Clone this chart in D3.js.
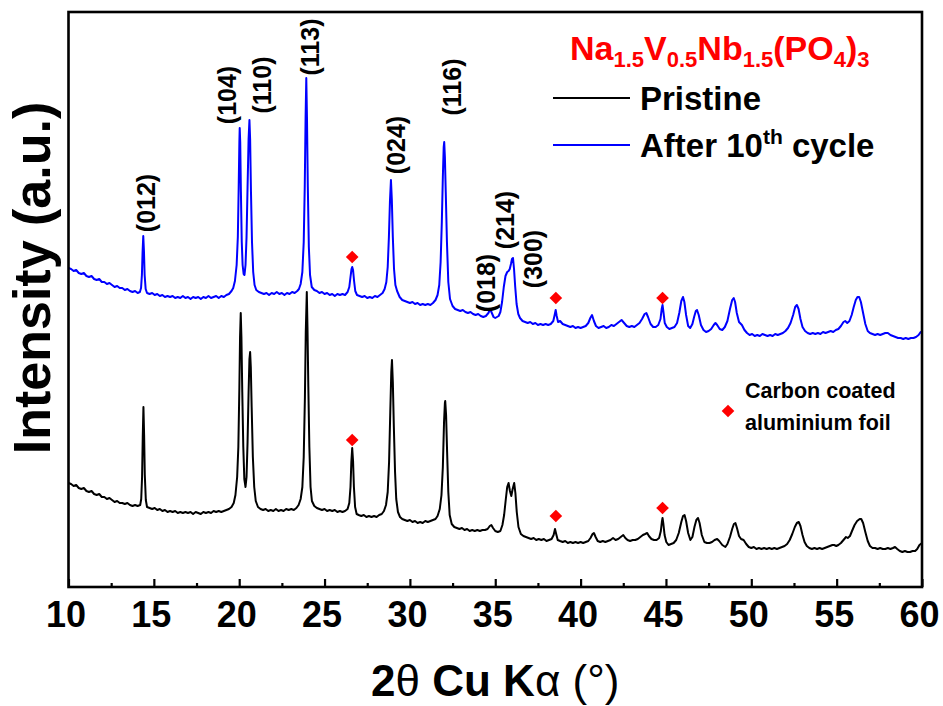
<!DOCTYPE html>
<html>
<head>
<meta charset="utf-8">
<script src="https://cdn.jsdelivr.net/npm/d3@7/dist/d3.min.js"></script>
<style>
  body { margin: 0; background: #fff; }
  svg { display: block; }
  text { font-family: "Liberation Sans", Arial, Helvetica, sans-serif; font-weight: bold; }
</style>
</head>
<body>
<svg id="chart" width="943" height="706"></svg>
<script>
// XRD patterns of Na1.5V0.5Nb1.5(PO4)3 electrodes: [2θ (deg), intensity (a.u.)]
const pristine = [
  [10.00,104],[10.15,103],[10.30,101],[10.45,102],[10.60,99],[10.75,98],[10.90,99],[11.05,96],[11.20,95],[11.35,96],
  [11.50,93],[11.65,92],[11.80,93],[11.95,90],[12.10,90],[12.25,88],[12.40,89],[12.55,87],[12.70,85],[12.85,86],
  [13.00,84],[13.15,84],[13.30,83],[13.45,84],[13.60,82],[13.75,81],[13.90,82],[14.05,81],[14.20,82],
  [14.26,88],[14.31,110],[14.35,150],[14.39,180],[14.43,152],[14.47,112],[14.53,87],[14.60,80],
  [14.75,79],[14.90,78],[15.05,79],[15.20,77],[15.35,78],[15.50,76],[15.65,77],[15.80,75],[15.95,76],[16.10,75],
  [16.25,76],[16.40,74],[16.55,75],[16.70,74],[16.85,75],[17.00,74],[17.15,75],[17.30,73],[17.45,75],[17.60,74],
  [17.75,73],[17.90,75],[18.05,74],[18.20,75],[18.35,74],[18.50,76],[18.65,75],[18.80,76],[18.95,75],[19.10,76],
  [19.25,77],[19.40,78],[19.55,80],
  [19.68,84],[19.78,92],[19.88,110],[19.95,140],[20.01,200],[20.05,250],[20.09,274],[20.13,250],[20.18,195],
  [20.24,140],[20.30,108],[20.37,100],[20.43,110],[20.49,145],[20.55,195],[20.60,228],[20.64,235],[20.68,220],
  [20.73,180],[20.80,130],[20.88,100],[20.97,86],[21.10,80],
  [21.25,78],[21.40,77],[21.55,78],[21.70,76],[21.85,77],[22.00,76],[22.15,78],[22.30,76],[22.45,77],[22.60,76],
  [22.75,78],[22.90,77],[23.05,78],[23.20,77],[23.35,79],[23.48,82],
  [23.60,88],[23.70,100],[23.78,130],[23.85,190],[23.90,255],[23.96,295],[24.00,260],[24.05,200],[24.11,140],
  [24.18,100],[24.26,86],[24.40,81],
  [24.55,79],[24.70,78],[24.85,77],[25.00,78],[25.15,76],[25.30,77],[25.45,76],[25.60,77],[25.75,75],[25.90,76],
  [26.05,75],[26.20,76],[26.35,78],
  [26.45,84],[26.52,100],[26.57,125],[26.62,139],[26.67,126],[26.72,100],[26.79,80],[26.88,73],
  [27.00,72],[27.15,71],[27.30,72],[27.45,70],[27.60,71],[27.75,70],[27.90,71],[28.05,70],[28.20,72],[28.35,73],
  [28.48,76],
  [28.60,82],[28.70,95],[28.78,125],[28.85,175],[28.91,215],[28.95,227],[29.00,205],[29.06,160],[29.13,115],
  [29.20,88],[29.30,75],[29.42,70],
  [29.55,68],[29.70,67],[29.85,66],[30.00,67],[30.15,65],[30.30,66],[30.45,64],[30.60,65],[30.75,64],[30.90,66],
  [31.05,65],[31.20,66],[31.35,67],[31.50,68],[31.62,71],
  [31.75,78],[31.85,92],[31.93,120],[32.00,165],[32.05,184],[32.07,186],[32.12,172],[32.18,135],[32.25,95],
  [32.33,72],[32.45,63],[32.60,60],
  [32.75,59],[32.90,58],[33.05,59],[33.20,57],[33.35,58],[33.50,56],[33.65,57],[33.80,56],[33.95,57],[34.10,56],
  [34.25,57],[34.40,57],[34.55,58],[34.68,61],[34.77,62],[34.87,59],[35.00,56],[35.15,55],[35.30,56],
  [35.42,62],[35.52,72],[35.62,88],[35.70,100],[35.78,104],[35.86,96],[35.94,91],[36.02,98],[36.11,104],
  [36.18,94],[36.26,75],[36.36,60],[36.50,53],[36.65,51],[36.80,50],
  [36.95,49],[37.10,48],[37.25,49],[37.40,47],[37.55,48],[37.70,47],[37.85,48],[38.00,46],[38.15,47],[38.30,48],
  [38.42,52],[38.50,58],[38.57,53],[38.66,47],[38.80,46],[38.95,45],
  [39.10,46],[39.25,44],[39.40,45],[39.55,44],[39.70,45],[39.85,44],[40.00,45],[40.15,44],[40.30,45],[40.45,46],
  [40.58,49],[40.70,53],[40.78,54],[40.88,50],[41.00,46],[41.15,45],
  [41.30,46],[41.45,45],[41.60,46],[41.75,47],[41.90,49],[42.05,47],[42.20,48],[42.35,50],[42.50,52],[42.62,49],
  [42.75,47],[42.90,46],[43.05,47],[43.20,47],[43.35,48],[43.50,50],[43.65,52],[43.78,53],[43.90,54],[44.00,51],
  [44.15,48],[44.30,47],[44.45,47],[44.60,49],[44.70,56],[44.76,65],[44.80,69],[44.85,63],[44.92,52],[45.02,45],
  [45.15,42],[45.30,43],[45.45,44],[45.60,47],[45.75,54],[45.90,65],[46.00,71],[46.09,72],[46.18,66],[46.30,54],
  [46.43,47],[46.55,50],[46.67,60],[46.78,67],[46.88,69],[46.97,64],[47.10,52],[47.25,45],[47.40,44],[47.55,44],
  [47.70,45],[47.85,47],[48.00,48],[48.12,46],[48.30,42],[48.48,40],[48.60,43],[48.75,50],[48.88,58],[48.98,63],
  [49.07,64],[49.16,59],[49.28,51],[49.40,48],[49.55,47],[49.70,43],[49.85,40],[50.00,39],[50.15,40],[50.30,38],
  [50.45,39],[50.60,38],[50.75,39],[50.90,38],[51.05,39],[51.20,38],[51.35,39],[51.50,38],[51.65,39],[51.80,40],
  [51.95,41],[52.10,43],[52.25,47],[52.40,53],[52.55,60],[52.67,64],[52.78,65],[52.88,61],[53.00,52],[53.12,45],
  [53.25,41],[53.40,39],[53.55,38],[53.70,39],[53.85,38],[54.00,39],[54.15,38],[54.30,39],[54.45,40],[54.60,41],
  [54.75,42],[54.85,42],[54.98,41],[55.10,42],[55.25,44],[55.40,47],[55.55,50],[55.65,49],[55.78,51],[55.90,56],
  [56.05,62],[56.20,66],[56.35,68],[56.44,68],[56.55,64],[56.68,55],[56.82,46],[56.95,41],[57.10,39],[57.25,39],
  [57.40,38],[57.55,39],[57.70,38],[57.85,38],[58.00,39],[58.15,38],[58.30,39],[58.42,40],[58.55,38],[58.70,36],
  [58.85,35],[59.00,36],[59.15,35],[59.30,35],[59.45,36],[59.60,36],[59.72,38],[59.85,42],[60.00,44]
];

const afterCycling = [
  [10.00,319],[10.15,318],[10.30,316],[10.45,317],[10.60,314],[10.75,313],[10.90,314],[11.05,311],[11.20,310],[11.35,311],
  [11.50,308],[11.65,307],[11.80,308],[11.95,305],[12.10,305],[12.25,303],[12.40,304],[12.55,302],[12.70,300],[12.85,301],
  [13.00,299],[13.15,299],[13.30,297],[13.45,298],[13.60,296],[13.75,295],[13.90,296],[14.05,294],[14.18,295],
  [14.25,299],[14.30,312],[14.34,335],[14.38,351],[14.42,336],[14.46,312],[14.52,298],[14.60,294],
  [14.75,293],[14.90,294],[15.05,292],[15.20,293],[15.35,291],[15.50,292],[15.65,290],[15.80,291],[15.95,290],[16.10,291],
  [16.25,289],[16.40,290],[16.55,289],[16.70,291],[16.85,289],[17.00,290],[17.15,288],[17.30,290],[17.45,289],[17.60,290],
  [17.75,288],[17.90,290],[18.05,289],[18.20,291],[18.35,289],[18.50,290],[18.65,291],[18.80,289],[18.95,291],[19.10,290],
  [19.25,292],[19.40,293],[19.55,296],
  [19.65,299],[19.75,306],[19.85,322],[19.92,350],[19.97,400],[20.01,445],[20.03,459],[20.06,445],[20.10,395],
  [20.15,345],[20.20,322],[20.26,313],[20.31,312],[20.37,322],[20.43,350],[20.49,400],[20.55,448],[20.60,467],
  [20.64,448],[20.69,395],[20.75,345],[20.82,315],[20.90,302],[21.00,297],[21.15,295],
  [21.30,294],[21.45,293],[21.60,294],[21.75,292],[21.90,294],[22.05,293],[22.20,295],[22.35,293],[22.50,294],[22.65,292],
  [22.80,294],[22.95,293],[23.10,295],[23.25,294],[23.40,296],[23.50,298],
  [23.60,303],[23.70,315],[23.78,345],[23.84,400],[23.89,470],[23.93,509],[23.97,470],[24.02,400],[24.08,340],
  [24.15,312],[24.25,300],[24.40,297],
  [24.55,296],[24.70,294],[24.85,295],[25.00,293],[25.15,294],[25.30,292],[25.45,293],[25.60,291],[25.75,293],[25.90,292],
  [26.05,293],[26.20,292],[26.35,295],
  [26.45,300],[26.52,310],[26.58,318],[26.62,320],[26.67,317],[26.73,306],[26.80,296],[26.90,292],
  [27.05,291],[27.20,290],[27.35,291],[27.50,289],[27.65,290],[27.80,289],[27.95,291],[28.10,290],[28.25,292],[28.40,294],
  [28.52,298],[28.62,305],[28.70,320],[28.77,350],[28.83,385],[28.89,407],[28.94,388],[29.00,350],[29.07,318],
  [29.15,302],[29.25,296],
  [29.40,290],[29.55,287],[29.70,286],[29.85,285],[30.00,284],[30.15,285],[30.30,283],[30.45,284],[30.60,282],[30.75,283],
  [30.90,282],[31.05,283],[31.20,282],[31.35,284],[31.50,287],
  [31.62,292],[31.72,302],[31.80,325],[31.87,365],[31.93,410],[31.98,440],[32.01,445],[32.05,430],[32.10,395],
  [32.17,345],[32.25,305],[32.35,288],[32.50,281],[32.65,278],
  [32.80,277],[32.95,276],[33.10,277],[33.25,275],[33.40,274],[33.55,275],[33.70,273],[33.85,272],[34.00,273],[34.15,271],
  [34.30,270],[34.45,271],[34.60,274],[34.70,278],[34.80,274],[34.90,270],[35.00,269],[35.10,270],[35.20,271],
  [35.30,275],[35.40,285],[35.50,300],[35.60,311],[35.70,315],[35.78,316],[35.85,318],[35.92,323],[35.98,328],
  [36.04,329],[36.10,318],[36.17,300],[36.25,283],[36.35,273],[36.45,269],
  [36.60,266],[36.75,265],[36.90,264],[37.05,265],[37.20,263],[37.35,264],[37.50,262],[37.65,263],[37.80,262],[37.95,263],
  [38.10,262],[38.25,263],[38.40,266],[38.48,272],[38.54,277],[38.60,271],[38.68,265],[38.80,266],[38.95,263],
  [39.10,262],[39.25,261],[39.40,260],[39.55,261],[39.70,259],[39.85,260],[40.00,259],[40.15,260],[40.30,261],[40.45,264],
  [40.57,269],[40.67,272],[40.78,266],[40.90,261],[41.05,259],[41.20,260],
  [41.35,261],[41.50,259],[41.65,260],[41.80,262],[41.95,261],[42.10,263],[42.25,265],[42.40,267],[42.55,264],[42.70,261],
  [42.85,260],[43.00,261],[43.15,260],[43.30,262],[43.45,264],[43.60,268],[43.75,273],[43.85,274],[43.95,270],[44.10,263],
  [44.25,260],[44.40,260],[44.55,262],[44.68,268],[44.75,278],[44.80,282],[44.86,274],[44.93,264],[45.05,260],[45.20,258],
  [45.35,259],[45.50,260],[45.65,264],[45.78,274],[45.90,286],[46.00,290],[46.08,285],[46.18,272],[46.30,261],[46.42,259],
  [46.55,263],[46.65,270],[46.75,276],[46.82,277],[46.92,272],[47.05,262],[47.20,257],[47.35,255],[47.50,256],[47.65,258],
  [47.80,262],[47.90,264],[48.00,262],[48.15,258],[48.30,257],[48.45,260],[48.60,266],[48.75,278],[48.88,287],[48.97,289],
  [49.05,285],[49.15,274],[49.28,265],[49.45,262],[49.60,257],[49.75,254],[49.90,252],[50.05,253],[50.20,251],[50.35,252],
  [50.50,251],[50.65,253],[50.80,252],[50.95,251],[51.10,252],[51.25,251],[51.40,253],[51.55,252],[51.70,253],[51.85,254],
  [52.00,256],[52.15,259],[52.30,264],[52.45,272],[52.57,280],[52.67,282],[52.77,278],[52.88,268],[53.00,260],[53.15,256],
  [53.30,254],[53.45,253],[53.60,254],[53.75,253],[53.90,254],[54.05,253],[54.20,255],[54.35,254],[54.50,255],[54.65,256],
  [54.80,255],[54.95,257],[55.10,258],[55.25,261],[55.40,265],[55.50,266],[55.62,264],[55.75,266],[55.88,272],[56.00,280],
  [56.12,287],[56.22,290],[56.32,290],[56.42,285],[56.55,274],[56.68,263],[56.82,256],[56.95,254],[57.10,253],[57.25,252],
  [57.40,253],[57.55,252],[57.70,253],[57.85,254],[58.00,254],[58.15,252],[58.30,251],[58.45,250],[58.60,249],[58.75,249],
  [58.90,248],[59.05,249],[59.20,248],[59.35,249],[59.50,249],[59.65,250],[59.80,252],[59.92,255],[60.00,254]
];

// Carbon-coated Al foil reflections marked above each pattern
const foilMarksPristine = [[26.62,147],[38.55,71],[44.80,79]];
const foilMarksCycled   = [[26.62,330],[38.55,289],[44.80,289]];

// Miller indices of the NASICON reflections and where their tags sit
const hklLabels = ["(012)","(104)","(110)","(113)","(024)","(116)","(018)","(214)","(300)"];
const hklAt     = [[14.54,384],[19.29,492],[21.34,502],[24.15,540],[29.19,442],[32.47,500],[34.46,304],[35.57,367],[37.21,328]];

const xMajorTicks = [10,15,20,25,30,35,40,45,50,55,60];
const xMinorTicks = [12.5,17.5,22.5,27.5,32.5,37.5,42.5,47.5,52.5,57.5];
const seriesNames = ["Pristine","After 10th cycle"];
const seriesColors = ["#000000","#0000ff"];

(function draw() {
  const svg = d3.select("#chart");
  const m = { left: 68.5, right: 922, top: 12, bottom: 587 };

  const x = d3.scaleLinear().domain([10,60]).range([m.left,m.right]);
  const y = d3.scaleLinear().domain([0,575]).range([m.bottom,m.top]);

  const line = d3.line().x(d => x(d[0])).y(d => y(d[1]));

  // patterns
  [pristine, afterCycling].forEach((s,i) => {
    svg.append("path").datum(s)
      .attr("d", line)
      .attr("fill","none")
      .attr("stroke", seriesColors[i])
      .attr("stroke-width", 2)
      .attr("stroke-linejoin","round");
  });

  // foil markers
  const diamond = d3.symbol().type(d3.symbolSquare).size(80);
  svg.append("g").selectAll("path")
    .data(foilMarksPristine.concat(foilMarksCycled))
    .join("path")
    .attr("d", diamond)
    .attr("fill","#ff0000")
    .attr("transform", d => `translate(${x(d[0])},${y(d[1])}) rotate(45)`);

  // frame
  svg.append("rect")
    .attr("x", m.left).attr("y", m.top)
    .attr("width", m.right-m.left).attr("height", m.bottom-m.top)
    .attr("fill","none").attr("stroke","#000").attr("stroke-width",2.6);

  // bottom axis with inward ticks
  const axMajor = svg.append("g").attr("transform",`translate(0,${m.bottom})`)
    .call(d3.axisBottom(x).tickValues(xMajorTicks).tickSize(-8).tickPadding(14).tickFormat(d3.format("d")));
  axMajor.select(".domain").remove();
  axMajor.selectAll(".tick line").attr("stroke","#000").attr("stroke-width",2.2);
  axMajor.selectAll(".tick text")
    .attr("font-size",36).attr("fill","#000")
    .attr("font-family","'Liberation Sans', Arial, sans-serif").attr("font-weight","bold")
    .attr("dx",-3);

  const axMinor = svg.append("g").attr("transform",`translate(0,${m.bottom})`)
    .call(d3.axisBottom(x).tickValues(xMinorTicks).tickSize(-4).tickFormat(""));
  axMinor.select(".domain").remove();
  axMinor.selectAll(".tick line").attr("stroke","#000").attr("stroke-width",2.2);

  // axis titles
  const xt = svg.append("text")
    .attr("x", (m.left+m.right)/2).attr("y", 696)
    .attr("text-anchor","middle").attr("font-size",44).attr("fill","#000");
  xt.append("tspan").text("2");
  xt.append("tspan").attr("font-weight","normal").text("θ");
  xt.append("tspan").text(" Cu K");
  xt.append("tspan").attr("font-weight","normal").text("α");
  xt.append("tspan").attr("font-weight","normal").text(" (°)");

  svg.append("text")
    .attr("transform","translate(50,278) rotate(-90)")
    .attr("text-anchor","middle").attr("font-size",52).attr("fill","#000")
    .text("Intensity (a.u.)");

  // reflection tags
  const tags = svg.append("g");
  hklLabels.forEach((t,i) => {
    const px = x(hklAt[i][0]), py = y(hklAt[i][1]);
    const g = tags.append("g").attr("transform",`translate(${px},${py}) rotate(-90)`);
    const txt = g.append("text")
      .attr("text-anchor","middle").attr("dominant-baseline","central")
      .attr("font-size",25).attr("fill","#000").text(t);
    if (t === "(113)") {
      const b = txt.node().getBBox();
      g.insert("rect","text")
        .attr("x",b.x).attr("y",b.y).attr("width",b.width).attr("height",b.height)
        .attr("fill","#fff");
    }
  });

  // compound name
  const title = svg.append("text").attr("x",570).attr("y",60)
    .attr("fill","#ff0000").attr("font-size",34);
  const parts = [["Na",0],["1.5",1],["V",0],["0.5",1],["Nb",0],["1.5",1],["(PO",0],["4",1],[")",0],["3",1]];
  let shifted = false;
  parts.forEach(([s,sub]) => {
    const ts = title.append("tspan").text(s);
    if (sub) {
      ts.attr("font-size",22);
      if (!shifted) { ts.attr("dy",7); shifted = true; }
    } else if (shifted) {
      ts.attr("dy",-7); shifted = false;
    }
  });

  // series legend
  const leg = svg.append("g");
  [98,145].forEach((ly,i) => {
    leg.append("line").attr("x1",553).attr("x2",630).attr("y1",ly).attr("y2",ly)
      .attr("stroke",seriesColors[i]).attr("stroke-width",1.8);
  });
  leg.append("text").attr("x",640).attr("y",110).attr("font-size",33).attr("fill","#000").text(seriesNames[0]);
  const l2 = leg.append("text").attr("x",640).attr("y",157).attr("font-size",33).attr("fill","#000");
  l2.append("tspan").text("After 10");
  l2.append("tspan").attr("font-size",21).attr("dy",-13).text("th");
  l2.append("tspan").attr("dy",13).text(" cycle");

  // foil legend
  leg.append("path").attr("d",diamond).attr("fill","#ff0000")
    .attr("transform","translate(728,411) rotate(45)");
  leg.append("text").attr("x",745).attr("y",398).attr("font-size",21.5).attr("fill","#000").text("Carbon coated");
  leg.append("text").attr("x",745).attr("y",430).attr("font-size",21.5).attr("fill","#000").text("aluminium foil");
})();
</script>
</body>
</html>
